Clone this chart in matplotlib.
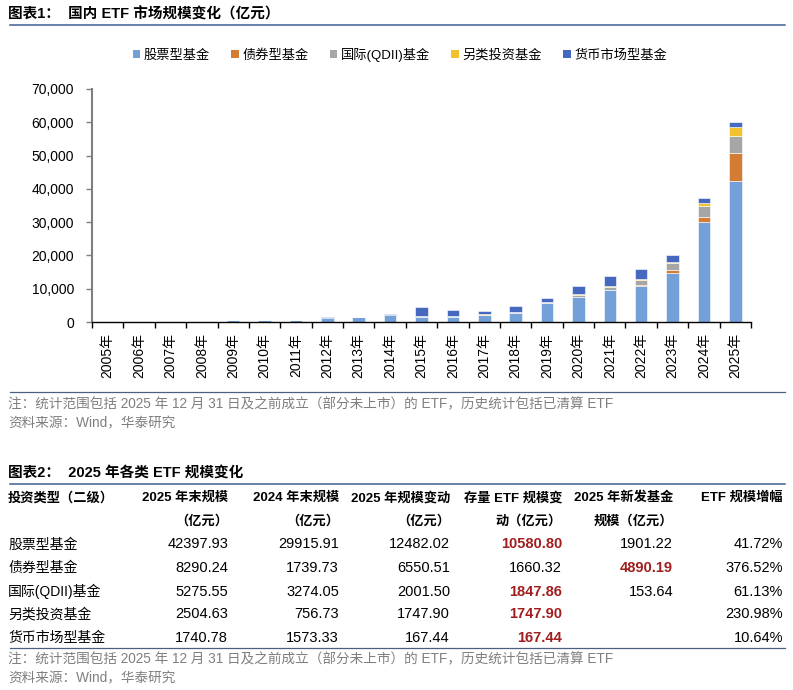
import numpy as np
import matplotlib
matplotlib.use("Agg")
import matplotlib.pyplot as plt
from matplotlib.patches import Patch
from matplotlib.ticker import FuncFormatter

plt.rcParams['font.family'] = ['Liberation Sans', 'Noto Sans CJK SC', 'DejaVu Sans']

# ---------------- data ----------------
years = ["2005年", "2006年", "2007年", "2008年", "2009年", "2010年", "2011年",
         "2012年", "2013年", "2014年", "2015年", "2016年", "2017年", "2018年",
         "2019年", "2020年", "2021年", "2022年", "2023年", "2024年", "2025年"]
series_names = ["股票型基金", "债券型基金", "国际(QDII)基金", "另类投资基金", "货币市场型基金"]
stock = [40, 90, 150, 200, 650, 650, 700, 1300, 1400, 2100, 1600, 1600, 2000, 2800,
         5600, 7500, 9500, 10800, 14700, 29915.91, 42397.93]
bond = [0, 0, 0, 0, 0, 0, 0, 0, 5, 10, 10, 10, 20, 50, 100, 150, 250, 450, 800, 1739.73, 8290.24]
qdii = [0, 0, 0, 0, 0, 0, 0, 20, 30, 40, 50, 80, 100, 100, 200, 450, 900, 1500, 2100, 3274.05, 5275.55]
alt = [0, 0, 0, 0, 0, 0, 0, 0, 20, 60, 100, 150, 150, 150, 250, 350, 250, 250, 350, 756.73, 2504.63]
money = [0, 0, 0, 0, 0, 0, 0, 50, 100, 300, 2750, 1800, 1050, 1800, 1150, 2400, 2900, 2800, 2050, 1573.33, 1740.78]
series = [stock, bond, qdii, alt, money]
colors = ["#74A0D9", "#D47C33", "#A6A6A6", "#F3C12E", "#4668BF"]
yticks = [0, 10000, 20000, 30000, 40000, 50000, 60000, 70000]

title1 = "图表1：  国内 ETF 市场规模变化（亿元）"
title2 = "图表2：  2025 年各类 ETF 规模变化"
note_text = "注：统计范围包括 2025 年 12 月 31 日及之前成立（部分未上市）的 ETF，历史统计包括已清算 ETF"
source_text = "资料来源：Wind，华泰研究"

header1 = ["投资类型（二级）", "2025 年末规模", "2024 年末规模", "2025 年规模变动",
           "存量 ETF 规模变", "2025 年新发基金", "ETF 规模增幅"]
header2 = ["", "（亿元）", "（亿元）", "（亿元）", "动（亿元）", "规模（亿元）", ""]
row_names = ["股票型基金", "债券型基金", "国际(QDII)基金", "另类投资基金", "货币市场型基金"]
size_2025 = ["42397.93", "8290.24", "5275.55", "2504.63", "1740.78"]
size_2024 = ["29915.91", "1739.73", "3274.05", "756.73", "1573.33"]
size_change = ["12482.02", "6550.51", "2001.50", "1747.90", "167.44"]
existing_change = ["10580.80", "1660.32", "1847.86", "1747.90", "167.44"]
new_funds = ["1901.22", "4890.19", "153.64", "", ""]
growth = ["41.72%", "376.52%", "61.13%", "230.98%", "10.64%"]
table_cols = [size_2025, size_2024, size_change, existing_change, new_funds, growth]
highlight = {(0, 3), (1, 4), (2, 3), (3, 3), (4, 3)}

# ---------------- layout helpers ----------------
W, H = 793, 690
fig = plt.figure(figsize=(W / 100, H / 100), dpi=100)
fig.patch.set_facecolor("white")


def fx(px):
    return px / W


def fy(py):
    return 1 - py / H


def hline(y, x0=10, x1=785, color="#4A5F82", lw=1.0):
    fig.add_artist(plt.Line2D([fx(x0), fx(x1)], [fy(y), fy(y)], color=color, lw=lw,
                              transform=fig.transFigure))


# ---------------- chart ----------------
ax = fig.add_axes([fx(92), fy(322), fx(751) - fx(92), fy(89) - fy(322)])
x = np.arange(len(years))
bottom = np.zeros(len(years))
for name, vals, c in zip(series_names, series, colors):
    v = np.array(vals, dtype=float)
    ax.bar(x, v, 0.4, bottom=bottom, color=c, edgecolor="white", linewidth=0.4, label=name)
    bottom += v

ax.set_xlim(-0.5, len(years) - 0.5)
ax.set_ylim(0, 70000)
ax.set_yticks(yticks)
ax.yaxis.set_major_formatter(FuncFormatter(lambda v, p: f"{int(v):,}"))
ax.set_xticks(np.arange(len(years) + 1) - 0.5)
ax.set_xticklabels([])
ax.set_xticks(x, minor=True)
ax.set_xticklabels(years, minor=True, rotation=90, fontsize=10)
ax.tick_params(axis="x", which="major", direction="out", length=4, width=1, color="black")
ax.tick_params(axis="x", which="minor", length=0, pad=8)
ax.tick_params(axis="y", direction="out", length=4, width=1, color="#7f7f7f", labelsize=10, pad=9)
for s in ["top", "right"]:
    ax.spines[s].set_visible(False)
ax.spines["left"].set_color("#7f7f7f")
ax.spines["left"].set_linewidth(1.5)
ax.spines["bottom"].set_color("black")
ax.spines["bottom"].set_linewidth(1.0)

handles = [Patch(facecolor=c, edgecolor="none") for c in colors]
fig.legend(handles, series_names, loc="center", bbox_to_anchor=(fx(400), fy(55)), ncol=5,
           frameon=False, fontsize=9.5, handlelength=0.55, handleheight=0.55,
           handletextpad=0.3, columnspacing=1.6)

# ---------------- titles / notes ----------------
fig.text(fx(8), fy(14), title1, fontsize=10.5, fontweight="bold", va="center", ha="left")
hline(25, color="#3F5F92", lw=1.1)
hline(392, color="#4A5F82", lw=0.9)
gray = "#7F7F7F"
fig.text(fx(8), fy(404), note_text, fontsize=9.8, color=gray, va="center", ha="left")
fig.text(fx(8), fy(423), source_text, fontsize=9.8, color=gray, va="center", ha="left")

fig.text(fx(8), fy(473), title2, fontsize=10.5, fontweight="bold", va="center", ha="left")
hline(484, color="#3F5F92", lw=1.1)

# ---------------- table ----------------
col_right = [228, 339, 450, 562, 673, 783]
fig.text(fx(8), fy(498), header1[0], fontsize=9.5, fontweight="bold", va="center", ha="left")
for i, xr in enumerate(col_right):
    fig.text(fx(xr), fy(498), header1[i + 1], fontsize=9.5, fontweight="bold", va="center", ha="right")
    if header2[i + 1]:
        fig.text(fx(xr), fy(521), header2[i + 1], fontsize=9.5, fontweight="bold", va="center", ha="right")

row_y = [543, 566, 590, 613, 636]
for r, (name, yy) in enumerate(zip(row_names, row_y)):
    fig.text(fx(8), fy(yy), name, fontsize=10, va="center_baseline", ha="left")
    for c, (col, xr) in enumerate(zip(table_cols, col_right)):
        txt = col[r]
        if not txt:
            continue
        if (r, c) in highlight:
            fig.text(fx(xr), fy(yy), txt, fontsize=10.5, fontweight="bold", color="#A01E1E",
                     va="center_baseline", ha="right")
        else:
            fig.text(fx(xr), fy(yy), txt, fontsize=10.5, va="center_baseline", ha="right")

hline(648, color="#4A5F82", lw=0.9)
fig.text(fx(8), fy(659), note_text, fontsize=9.8, color=gray, va="center", ha="left")
fig.text(fx(8), fy(678), source_text, fontsize=9.8, color=gray, va="center", ha="left")

fig.savefig("out.png", dpi=100)
